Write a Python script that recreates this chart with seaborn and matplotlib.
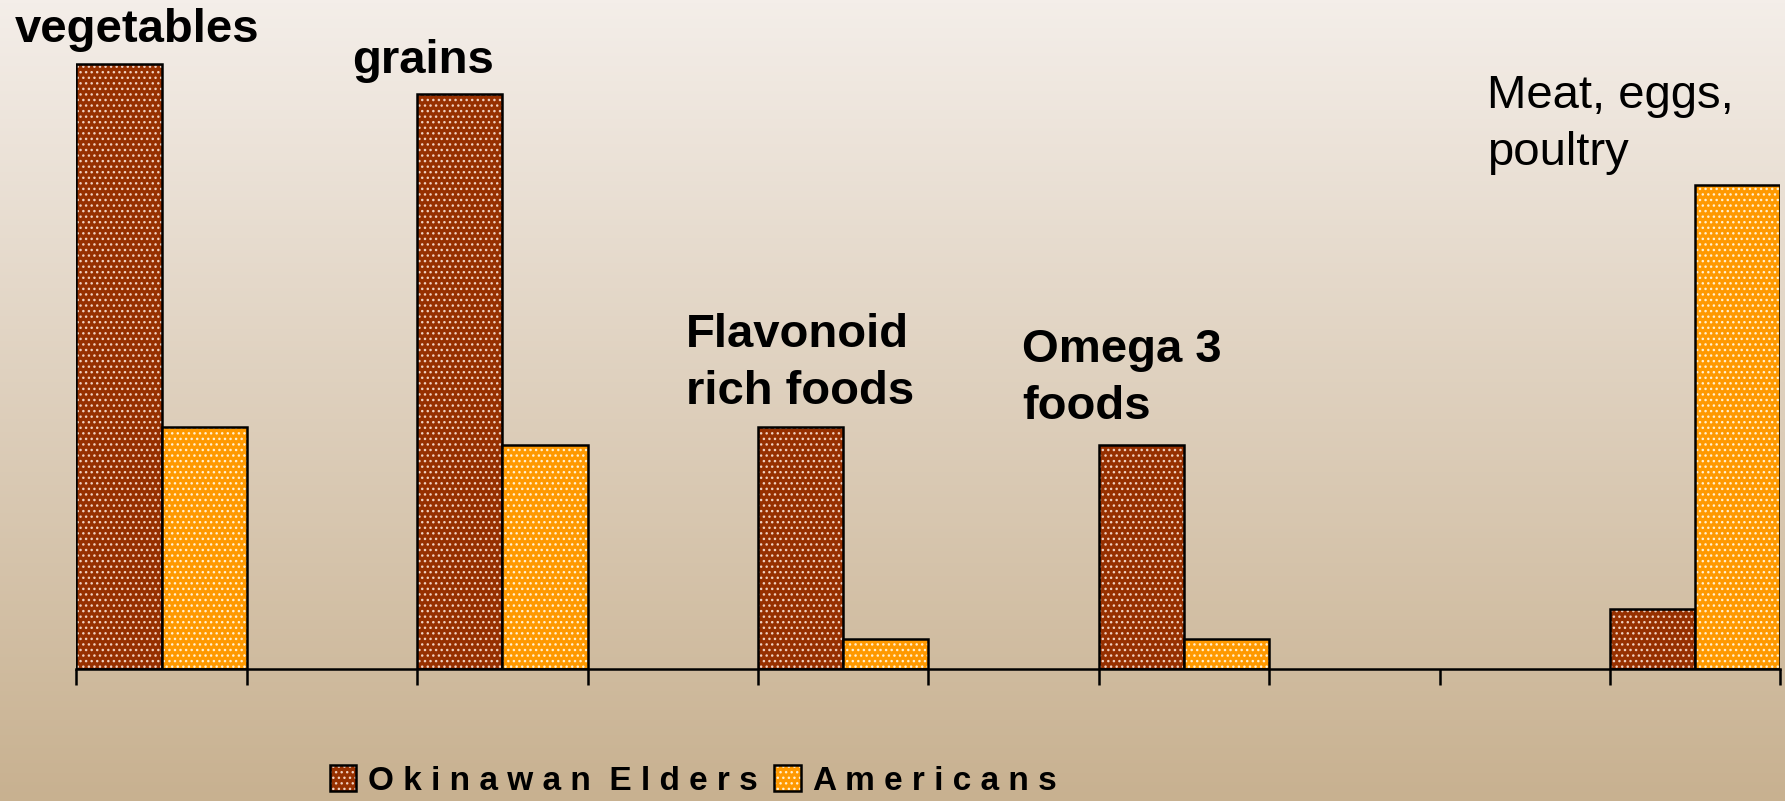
"""
Okinawan elders vs Americans: food group intake, grouped bar chart.
"""

import matplotlib

matplotlib.use("Agg")
import matplotlib.pyplot as plt
import matplotlib.colors as mcolors
import numpy as np
import pandas as pd
import seaborn as sns

# slots along the x axis (gaps are empty category slots)
SLOTS = ["vegetables", "gap1", "grains", "gap2", "flavonoid", "gap3",
         "omega3", "gap4", "gap5", "meat"]
FOODS = ["vegetables", "grains", "flavonoid", "omega3", "meat"]
LABELS = [["vegetables"], ["grains"], ["Flavonoid", "rich foods"],
          ["Omega 3", "foods"], ["Meat, eggs,", "poultry"]]
OKINAWAN = [10.0, 9.5, 4.0, 3.7, 1.0]
AMERICANS = [4.0, 3.7, 0.5, 0.5, 8.0]
GROUPS = ["Okinawan Elders", "Americans"]
LEGEND_LABELS = ["O k i n a w a n  E l d e r s", "A m e r i c a n s"]
COLORS = ["#963000", "#FF9900"]
HATCH_COLORS = ["#F0D0C0", "#FFF0D0"]

W, H = 1785, 801

df = pd.DataFrame({
    "food": FOODS * 2,
    "group": [GROUPS[0]] * len(FOODS) + [GROUPS[1]] * len(FOODS),
    "value": OKINAWAN + AMERICANS,
})

plt.rcParams["font.family"] = ["Liberation Sans", "DejaVu Sans"]
plt.rcParams["hatch.linewidth"] = 1.0

fig = plt.figure(figsize=(W / 100, H / 100), dpi=100)

# gradient background
bg = fig.add_axes([0, 0, 1, 1], zorder=-10)
cmap = mcolors.LinearSegmentedColormap.from_list("bg", ["#F4EEE9", "#C8B190"])
bg.imshow(np.linspace(0, 1, 256).reshape(-1, 1), aspect="auto", cmap=cmap,
          extent=[0, 1, 0, 1])
bg.set_axis_off()

x0, x1 = 76.3, 1780.4
base_y = 669.4
unit = 60.56
ytop = 10.5
top_px = base_y - ytop * unit
ax = fig.add_axes([x0 / W, 1 - base_y / H, (x1 - x0) / W, (base_y - top_px) / H])
ax.set_facecolor("none")

sns.barplot(data=df, x="food", y="value", hue="group", order=SLOTS,
            hue_order=GROUPS, palette=COLORS, width=1.0, dodge=True,
            edgecolor="black", linewidth=1.8, saturation=1, legend=False, ax=ax)

for cont, hc in zip(ax.containers, HATCH_COLORS):
    for p in cont.patches:
        p.set_hatch("...")
        p._hatch_color = mcolors.to_rgba(hc)

ax.set_xlim(-0.5, len(SLOTS) - 0.5)
ax.set_ylim(0, ytop)
ax.set_xticks(np.arange(-0.5, len(SLOTS), 1.0))
ax.set_xticklabels([])
ax.set_yticks([])
ax.set_xlabel("")
ax.set_ylabel("")
for side in ["top", "right", "left"]:
    ax.spines[side].set_visible(False)
ax.spines["bottom"].set_linewidth(1.8)
ax.tick_params(axis="x", direction="out", length=11.5, width=1.8, color="black")

# category labels placed above their bars, one text per line
label_pos = [(15, [42], "bold"), (352, [73], "bold"), (686, [347, 404], "bold"),
             (1022, [362, 419], "bold"), (1487, [108, 165], "normal")]
for lines, (px, baselines, wt) in zip(LABELS, label_pos):
    for line, py in zip(lines, baselines):
        fig.text(px / W, 1 - py / H, line, fontsize=34, fontweight=wt,
                 ha="left", va="baseline")

handles = [cont.patches[0] for cont in ax.containers]
fig.legend(handles, LEGEND_LABELS, loc="center", bbox_to_anchor=(693 / W, 1 - 781 / H),
           ncol=2, frameon=False, handlelength=0.8, handleheight=0.8,
           handletextpad=0.35, columnspacing=0.5,
           prop={"weight": "bold", "size": 24})

fig.savefig("out.png", dpi=100)
plt.close(fig)
